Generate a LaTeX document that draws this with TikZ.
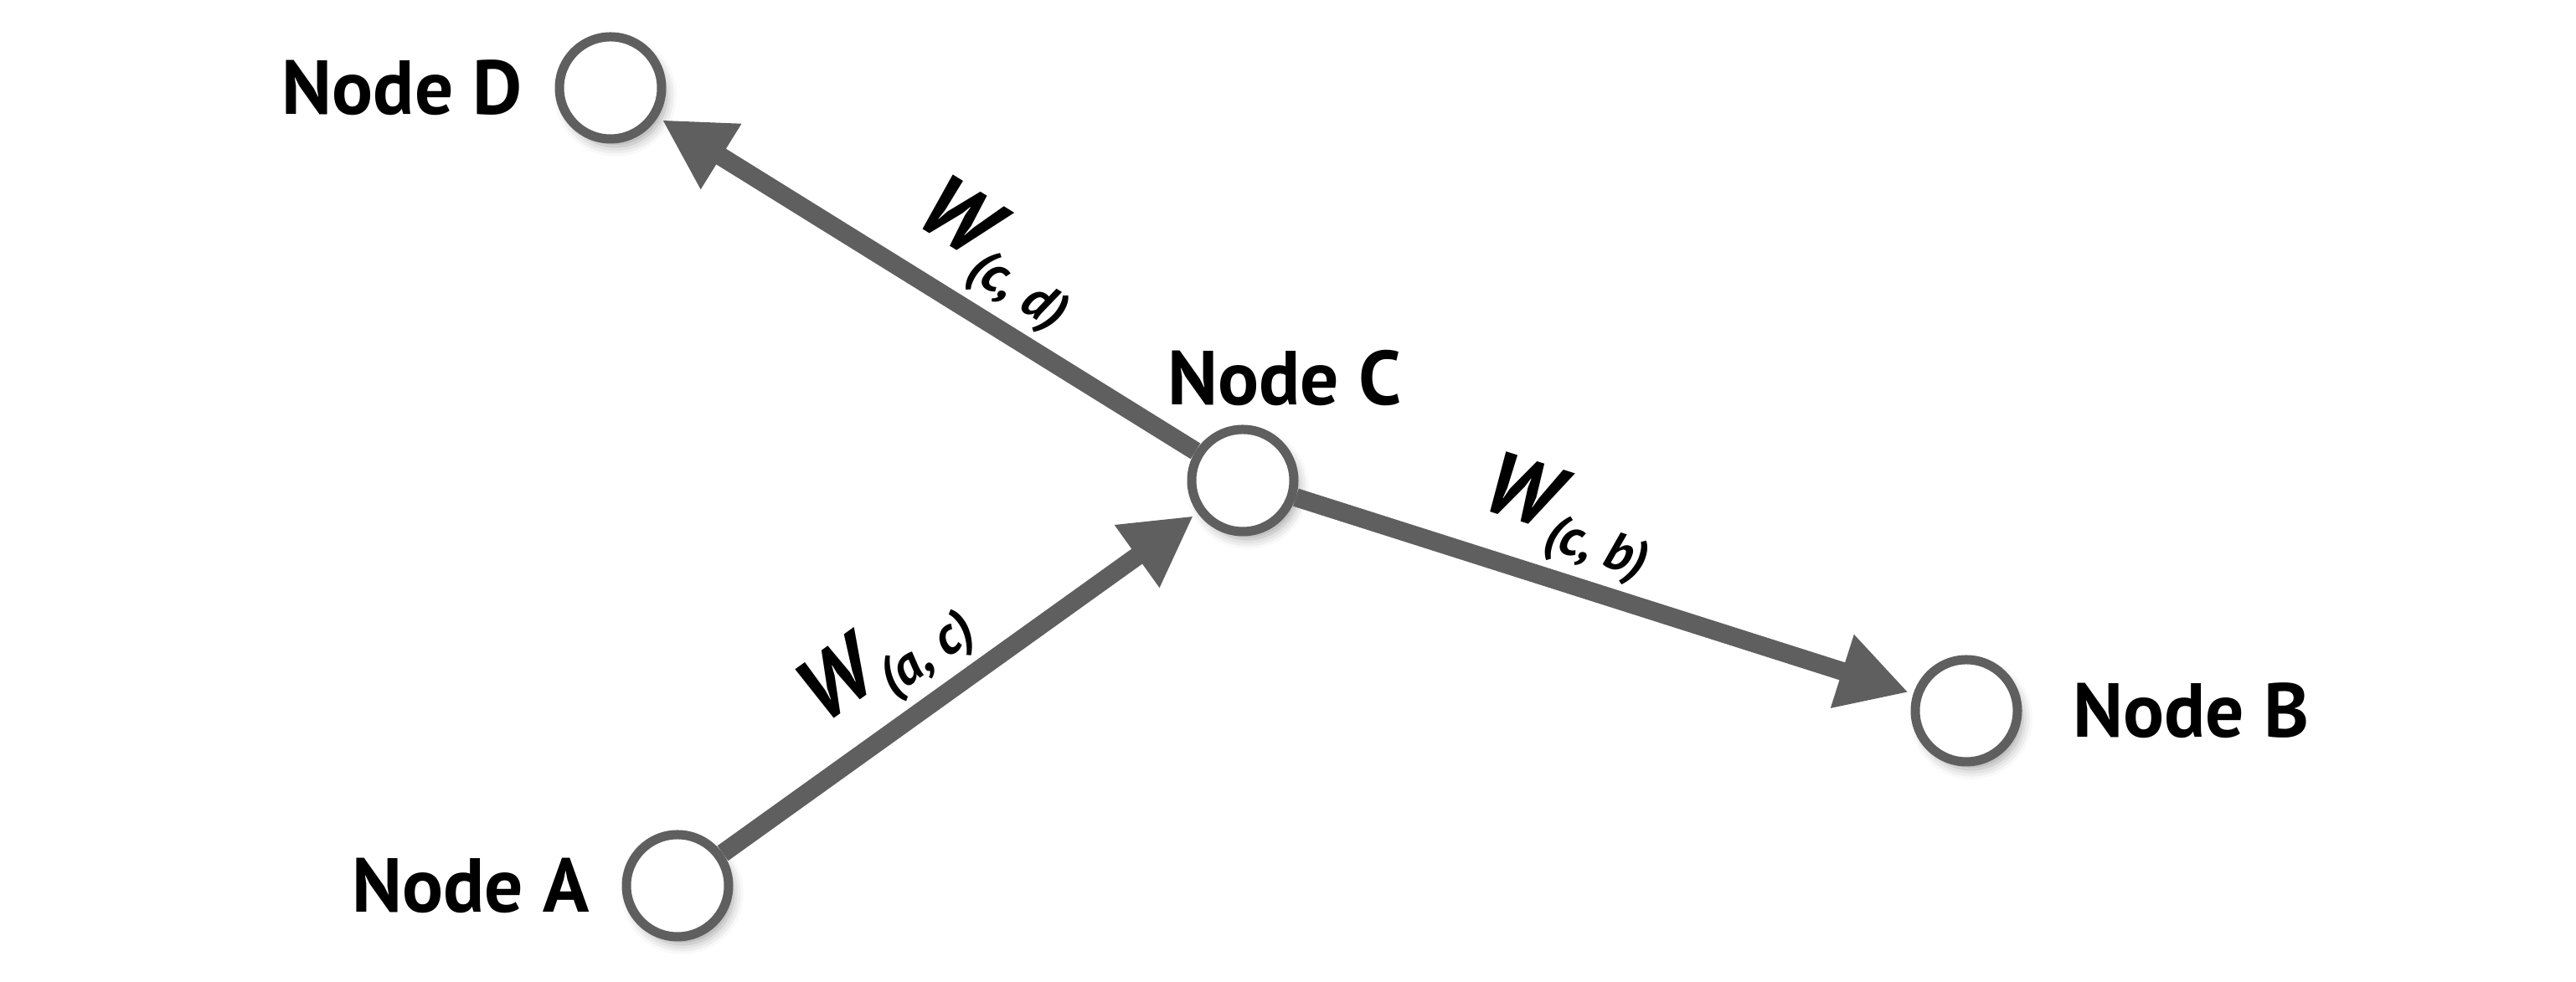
\documentclass[tikz,border=0pt]{standalone}
\usepackage{fontspec}
\setmainfont{PT Sans}
\usetikzlibrary{arrows.meta,positioning,shadows.blur}
\definecolor{edgegray}{HTML}{5F5F5F}
\newcommand{\wlabel}[2]{W\raisebox{-0.4ex}{\fontsize{18}{18}\selectfont(#1, #2)}}

\begin{document}
\begin{tikzpicture}[
	vertex/.style={circle,draw=edgegray,line width=1.1mm,fill=white,minimum size=12.2mm,inner sep=0pt,
		blur shadow={shadow xshift=0.6mm,shadow yshift=-0.9mm,shadow blur radius=1.2mm,shadow opacity=35}},
	caption/.style={font=\fontsize{26}{30}\selectfont\bfseries,inner sep=0pt},
	weight/.style={text=black,font=\fontsize{30}{34}\selectfont\bfseries\itshape,sloped,inner sep=0pt,above=0.8mm},
	link/.style={edgegray,line width=2.2mm,shorten >=0.6mm},
	>={Triangle[length=8.3mm,width=8.6mm]}
	]
	\useasboundingbox (0,0) rectangle (30.76,11.73);

	\node[vertex] (a) at (8.09,1.15) {};
	\node[vertex] (b) at (23.48,3.24) {};
	\node[vertex] (c) at (14.84,5.99) {};
	\node[vertex] (d) at (7.29,10.68) {};

	\node[caption,left=3.8mm of a] (na) {Node A};
	\node[caption,right=6mm of b] (nb) {Node B};
	\node[caption,above=2.2mm of c,xshift=5mm] (nc) {Node C};
	\node[caption,left=3.8mm of d] (nd) {Node D};

	\begin{scope}[link,->]
		\draw (a) -- node[weight,pos=0.42] (wac) {\wlabel{a}{c}} (c);
		\draw (c) -- node[weight,pos=0.41] (wcb) {\wlabel{c}{b}} (b);
		\draw (c) -- node[weight,pos=0.43] (wcd) {\wlabel{c}{d}} (d);
	\end{scope}
\end{tikzpicture}
\end{document}
